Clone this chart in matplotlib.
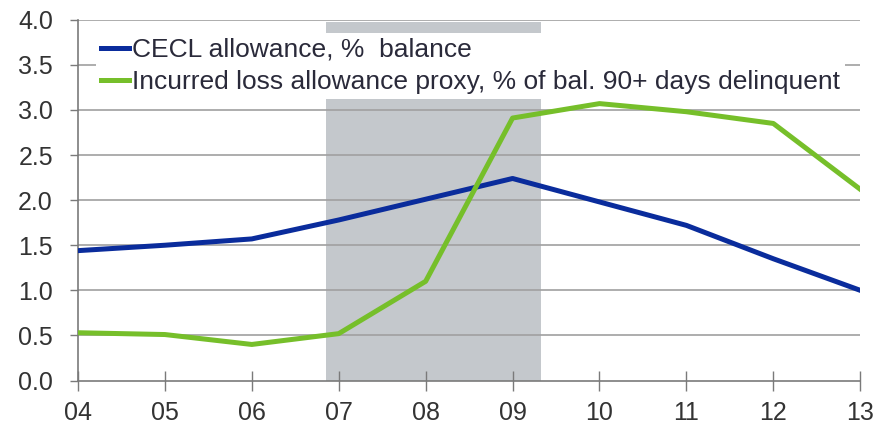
import matplotlib
matplotlib.use("Agg")
import matplotlib.pyplot as plt
import numpy as np

plt.rcParams["font.family"] = ["Liberation Sans", "DejaVu Sans"]

# ============================================================
# DATA
# ============================================================
years = ["04", "05", "06", "07", "08", "09", "10", "11", "12", "13"]
cecl = [1.44, 1.50, 1.57, 1.78, 2.01, 2.24, 1.98, 1.72, 1.35, 1.00]
incurred = [0.53, 0.51, 0.40, 0.52, 1.10, 2.91, 3.07, 2.98, 2.85, 2.12]
recession = (2.85, 5.33)

labels = [
    "CECL allowance, %  balance",
    "Incurred loss allowance proxy, % of bal. 90+ days delinquent",
]

# ============================================================
# FIGURE
# ============================================================
fig = plt.figure(figsize=(8.91, 4.24), dpi=100)
ax = fig.add_axes([0.0875, 0.1025, 0.878, 0.851])

x = np.arange(len(years))

ax.axvspan(recession[0], recession[1], ymin=0, ymax=0.994,
           color="#c4c8cc", lw=0, zorder=0)

for yv in np.arange(0.5, 4.01, 0.5):
    ax.axhline(yv, color="#a0a0a0", lw=1.2, zorder=1)

ax.plot(x, cecl, color="#0a2c9c", lw=3.6, label=labels[0], zorder=3)
ax.plot(x, incurred, color="#76bf2a", lw=3.6, label=labels[1], zorder=3)

ax.set_xlim(0, len(years) - 1)
ax.set_ylim(0, 4.0)
ax.set_xticks(x)
ax.set_xticklabels(years)
ax.set_yticks(np.arange(0, 4.01, 0.5))
ax.set_yticklabels([f"{v:.1f}" for v in np.arange(0, 4.01, 0.5)])

for side in ["top", "right"]:
    ax.spines[side].set_visible(False)
for side in ["left", "bottom"]:
    ax.spines[side].set_color("#7a7a7a")
    ax.spines[side].set_linewidth(1.2)

ax.tick_params(axis="both", width=1, color="#7a7a7a",
               labelsize=18, labelcolor="#333333")
ax.tick_params(axis="x", direction="inout", length=14, pad=8)
ax.tick_params(axis="y", direction="out", length=6, pad=12)

leg = ax.legend(loc="upper left", bbox_to_anchor=(0.023, 0.964),
                frameon=True, fancybox=False, framealpha=1,
                edgecolor="white", facecolor="white",
                fontsize=19, handlelength=1.07, handletextpad=0.08,
                labelspacing=0.3, borderpad=0.2, borderaxespad=0)
leg.get_frame().set_linewidth(0)
for t in leg.get_texts():
    t.set_color("#2a2a3a")
leg.set_zorder(2)

fig.savefig("out.png", dpi=100)
